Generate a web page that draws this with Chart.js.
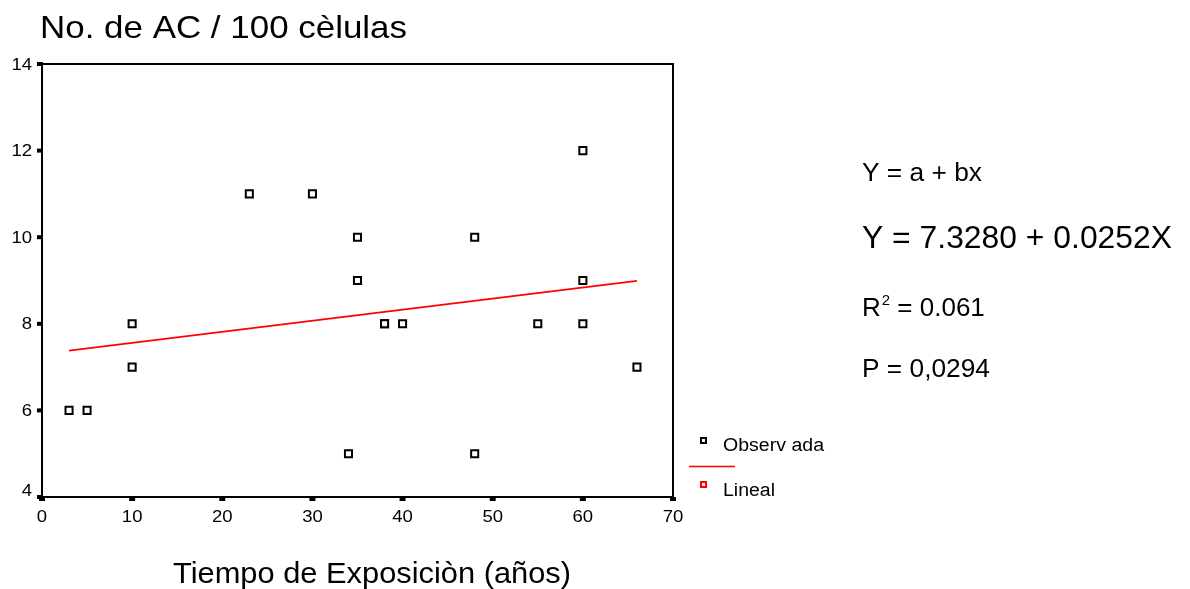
<!DOCTYPE html>
<html>
<head>
<meta charset="utf-8">
<script src="https://cdn.jsdelivr.net/npm/chart.js@4/dist/chart.umd.min.js"></script>
<style>
  body { margin:0; background:#fff; }
  #wrap { position:relative; width:1190px; height:589px; }
</style>
</head>
<body>
<div id="wrap"><canvas id="myChart"></canvas></div>
<script>
// observed values (tiempo de exposicion, AC / 100 celulas)
var obsX = [3, 5, 10, 10, 23, 30, 34, 35, 35, 35, 38, 38, 40, 48, 48, 55, 60, 60, 60, 66];
var obsY = [6, 6, 8, 7, 11, 11, 5, 10, 9, 9, 8, 8, 8, 10, 5, 8, 12, 9, 8, 7];
// fitted line
var linX = [3, 66];
var linY = [7.38, 8.99];
var xTicks = [0, 10, 20, 30, 40, 50, 60, 70];
var yTicks = [4, 6, 8, 10, 12, 14];

var FONT = 'Liberation Sans, Arial, sans-serif';

function pts(xs, ys){
	var out = [];
	for (var i=0;i<xs.length;i++){ out.push({x: xs[i], y: ys[i]}); }
	return out;
}

// text drawn with a horizontal stretch so it fills width w (the source is stretched)
function txt(ctx, s, x, y, size, w, align){
	ctx.font = size + 'px ' + FONT;
	var m = ctx.measureText(s).width;
	var sx = w ? w / m : 1;
	var x0 = x;
	if (align == 'center') x0 = x - m*sx/2;
	else if (align == 'right') x0 = x - m*sx;
	ctx.save();
	ctx.translate(x0, y);
	ctx.scale(sx, 1);
	ctx.textAlign = 'left';
	ctx.fillText(s, 0, 0);
	ctx.restore();
	return m*sx;
}

var extras = {
	id: 'extras',
	afterDraw: function(chart){
		var ctx = chart.ctx, a = chart.chartArea;
		var xs = chart.scales.x, ys = chart.scales.y;
		ctx.save();
		// frame
		ctx.strokeStyle = '#000';
		ctx.lineWidth = 2;
		ctx.strokeRect(a.left, a.top, a.right - a.left, a.bottom - a.top);
		ctx.fillStyle = '#000';
		ctx.textBaseline = 'middle';
		// y ticks
		for (var i=0;i<yTicks.length;i++){
			var py = ys.getPixelForValue(yTicks[i]);
			ctx.fillRect(a.left - 5, py - 2, 6, 4);
			var ly = Math.min(py, a.bottom - 7);
			txt(ctx, String(yTicks[i]), 32, ly + 1, 17, String(yTicks[i]).length*10.3, 'right');
		}
		// x ticks
		for (var j=0;j<xTicks.length;j++){
			var px = xs.getPixelForValue(xTicks[j]);
			ctx.fillRect(px - 3, a.bottom, 6, 4);
			txt(ctx, String(xTicks[j]), px, 517, 17, String(xTicks[j]).length*10.3, 'center');
		}
		ctx.textBaseline = 'alphabetic';
		// titles
		txt(ctx, 'No. de AC / 100 cèlulas', 40, 38, 32, 367, 'left');
		txt(ctx, 'Tiempo de Exposiciòn (años)', 372, 583, 29, 398, 'center');
		// equation text
		txt(ctx, 'Y = a + bx', 862, 181, 26, 120, 'left');
		txt(ctx, 'Y = 7.3280 + 0.0252X', 862, 248, 32, 310, 'left');
		var rw = txt(ctx, 'R', 862, 316, 26, 0, 'left');
		var sw = txt(ctx, '2', 862 + rw + 1, 305, 15, 0, 'left');
		txt(ctx, ' = 0.061', 862 + rw + sw + 1, 316, 26, 0, 'left');
		txt(ctx, 'P = 0,0294', 862, 377, 26, 128, 'left');
		// legend
		ctx.lineWidth = 2;
		ctx.strokeStyle = '#000';
		ctx.strokeRect(701, 438, 5, 5);
		txt(ctx, 'Observ ada', 723, 451, 18, 101, 'left');
		ctx.strokeStyle = '#ff0000';
		ctx.lineWidth = 1.5;
		ctx.beginPath(); ctx.moveTo(689, 466.5); ctx.lineTo(735, 466.5); ctx.stroke();
		ctx.lineWidth = 2;
		ctx.strokeRect(701, 482, 5, 5);
		txt(ctx, 'Lineal', 723, 496, 18, 52, 'left');
		ctx.restore();
	}
};

var ctx = document.getElementById('myChart').getContext('2d');
var myChart = new Chart(ctx, {
	type: 'scatter',
	data: {
		datasets: [{
			label: 'Observada',
			data: pts(obsX, obsY),
			pointStyle: 'rect',
			pointRadius: 5,
			borderColor: '#000',
			backgroundColor: '#fff',
			borderWidth: 2,
			order: 1
		},{
			label: 'Lineal',
			type: 'line',
			data: pts(linX, linY),
			borderColor: '#ff0000',
			borderWidth: 1.8,
			pointRadius: 0,
			fill: false,
			order: 2
		}]
	},
	options: {
		responsive: true,
		maintainAspectRatio: false,
		animation: false,
		layout: { padding: { left: 0, top: 64, right: 517, bottom: 0 } },
		plugins: {
			legend: { display: false },
			title: { display: false },
			tooltip: { enabled: false }
		},
		scales: {
			x: {
				type: 'linear',
				min: 0, max: 70,
				afterBuildTicks: function(s){ s.ticks = xTicks.map(function(v){ return {value: v}; }); },
				afterFit: function(s){ s.height = 92; },
				grid: { display: false },
				border: { display: false },
				ticks: { display: false }
			},
			y: {
				type: 'linear',
				min: 4, max: 14,
				afterBuildTicks: function(s){ s.ticks = yTicks.map(function(v){ return {value: v}; }); },
				afterFit: function(s){ s.width = 42; },
				grid: { display: false },
				border: { display: false },
				ticks: { display: false }
			}
		}
	},
	plugins: [extras]
});
</script>
</body>
</html>
